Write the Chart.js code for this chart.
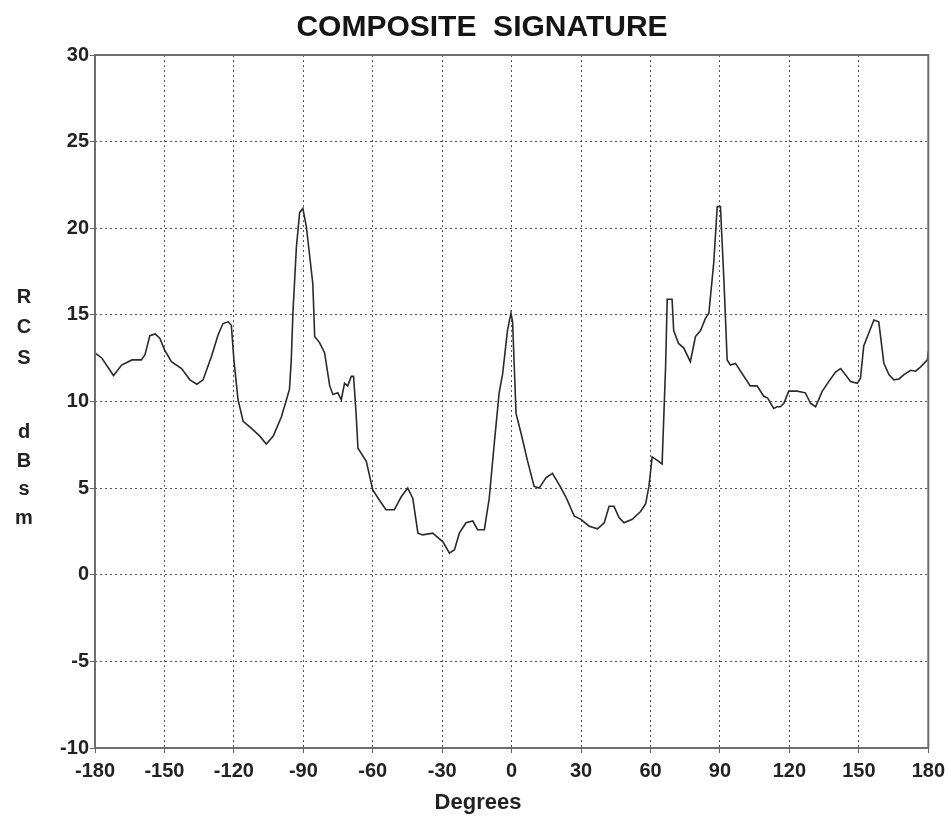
<!DOCTYPE html>
<html>
<head>
<meta charset="utf-8">
<script src="https://cdn.jsdelivr.net/npm/chart.js@4/dist/chart.umd.min.js"></script>
<style>
  html, body { margin: 0; padding: 0; background: #ffffff; }
  #wrap { width: 951px; height: 818px; position: relative; }
</style>
</head>
<body>
<div id="wrap"><canvas id="c"></canvas></div>
<script>
const titleText = "COMPOSITE  SIGNATURE";
const xAxisTitle = "Degrees";
const yAxisLetters = ["R", "C", "S", "", "d", "B", "s", "m"];
const xTicks = [-180, -150, -120, -90, -60, -30, 0, 30, 60, 90, 120, 150, 180];
const yTicks = [-10, -5, 0, 5, 10, 15, 20, 25, 30];

const degrees = [
  -180, -177, -172, -168.5, -164, -160, -158.4, -156.3, -154, -152, -150, -147, -142.6, -139, -136, -133.3,
  -129.7, -126.8, -124.7, -122.5, -121.1, -120, -118.2, -116, -112.4, -108.8, -106, -103, -99.5, -97.3, -96,
  -95.2, -94.5, -93, -91.6, -90.2, -88.7, -85.9, -85.1, -83, -80.8, -78.6, -77.2, -75.1, -73.6, -72.2,
  -70.8, -69.3, -68.3, -67.2, -66.4, -62.8, -60, -57.1, -54.3, -50.7, -47.7, -44.9, -42.7, -40.5, -38.4,
  -34.1, -29.7, -26.9, -24.7, -22.6, -19.7, -16.8, -14.7, -11.8, -9.7, -7.5, -5.4, -3.9, -1.8, -0.3, 0.4,
  1.9, 4, 6.8, 9.7, 11.9, 14.8, 17.6, 20.5, 23.4, 27, 29.9, 33.5, 37.1, 40, 42.1, 44.2, 46.4, 48.5, 52.1,
  55.7, 57.9, 59.3, 60.7, 62.9, 65, 66.5, 67.2, 69.3, 70, 72.1, 74.3, 77.2, 79.4, 81.6, 83.7, 85.2, 87.3,
  88.8, 90.2, 91.7, 93.1, 94.5, 96.7, 99.6, 103.1, 106, 108.9, 110.6, 113.2, 114.7, 116.1, 117.6, 119.7,
  123.3, 126.9, 129.1, 131.3, 134.2, 137, 139.9, 142.1, 144.2, 146.4, 149.3, 150.7, 152.1, 154.3, 156.5,
  158.6, 160.8, 163, 165.1, 167.3, 169.5, 172.4, 174.5, 176.7, 179.6, 180
];
const rcs = [
  12.8, 12.5, 11.5, 12.1, 12.4, 12.4, 12.7, 13.8, 13.9, 13.65, 13.0, 12.3, 11.9, 11.25, 11.0, 11.25,
  12.6, 13.85, 14.5, 14.6, 14.4, 12.4, 10.1, 8.85, 8.45, 8.0, 7.55, 8.0, 9.1, 10.1, 10.7,
  12.4, 15.1, 18.9, 20.9, 21.15, 20.1, 16.8, 13.75, 13.4, 12.8, 10.9, 10.4, 10.5, 10.1, 11.05,
  10.9, 11.45, 11.45, 9.3, 7.3, 6.55, 4.9, 4.3, 3.75, 3.75, 4.5, 5.0, 4.4, 2.4, 2.3,
  2.4, 1.9, 1.25, 1.45, 2.4, 3.0, 3.1, 2.6, 2.6, 4.4, 7.6, 10.5, 11.6, 14.1, 15.1, 14.6,
  9.3, 8.2, 6.6, 5.1, 5.0, 5.6, 5.85, 5.2, 4.5, 3.4, 3.2, 2.8, 2.65, 3.0, 3.95, 3.95, 3.3, 3.0, 3.2,
  3.65, 4.1, 5.1, 6.8, 6.6, 6.4, 12.0, 15.9, 15.9, 14.1, 13.35, 13.1, 12.3, 13.75, 14.1, 14.8, 15.1, 18.0,
  21.25, 21.25, 17.0, 12.4, 12.1, 12.2, 11.6, 10.9, 10.9, 10.3, 10.2, 9.6, 9.7, 9.7, 9.9, 10.6,
  10.6, 10.5, 9.9, 9.7, 10.6, 11.15, 11.7, 11.9, 11.55, 11.15, 11.05, 11.35, 13.2, 13.95, 14.7,
  14.6, 12.2, 11.55, 11.25, 11.3, 11.55, 11.8, 11.75, 12.0, 12.4, 12.9
];

const FONT = "'Liberation Sans', Arial, Helvetica, sans-serif";

const textPlugin = {
  id: 'texts',
  afterDraw(chart) {
    const ctx = chart.ctx;
    const a = chart.chartArea;
    ctx.save();
    // plot frame
    ctx.strokeStyle = '#6e6e6e';
    ctx.lineWidth = 2;
    ctx.setLineDash([]);
    ctx.strokeRect(a.left, a.top, a.right - a.left, a.bottom - a.top);
    // title
    ctx.fillStyle = '#151515';
    ctx.textAlign = 'center';
    ctx.textBaseline = 'middle';
    ctx.font = "bold 30px " + FONT;
    ctx.fillText(titleText, 482, 28);
    // x-axis title
    ctx.fillStyle = '#222';
    ctx.font = "bold 22px " + FONT;
    ctx.fillText(xAxisTitle, 478, 803);
    // stacked y-axis title letters
    ctx.font = "bold 20px " + FONT;
    const ys = [297, 327, 358, 0, 432, 461, 489, 518];
    yAxisLetters.forEach((ch, i) => {
      if (ch) ctx.fillText(ch, 24, ys[i]);
    });
    ctx.restore();
  }
};

const gridOpts = {
  color: '#555',
  lineWidth: 1,
  tickLength: 5,
  tickBorderDash: [],
  tickColor: '#666'
};

new Chart(document.getElementById('c'), {
  type: 'scatter',
  data: {
    datasets: [{
      data: degrees.map((d, i) => ({ x: d, y: rcs[i] })),
      showLine: true,
      borderColor: '#2a2a2a',
      borderWidth: 1.6,
      pointRadius: 0,
      tension: 0,
      fill: false
    }]
  },
  options: {
    responsive: true,
    maintainAspectRatio: false,
    animation: false,
    layout: { padding: { left: 0, right: 18, top: 55, bottom: 0 } },
    plugins: {
      legend: { display: false },
      tooltip: { enabled: false },
      title: { display: false }
    },
    scales: {
      x: {
        type: 'linear',
        min: -180, max: 180,
        afterBuildTicks(scale) { scale.ticks = xTicks.map(v => ({ value: v })); },
        afterFit(scale) { scale.height = 70; },
        grid: gridOpts,
        border: { display: false, dash: [2, 3] },
        ticks: {
          color: '#222',
          padding: 6,
          maxRotation: 0,
          font: { family: FONT, size: 20, weight: 'bold' },
          callback: v => String(v)
        }
      },
      y: {
        type: 'linear',
        min: -10, max: 30,
        afterBuildTicks(scale) { scale.ticks = yTicks.map(v => ({ value: v })); },
        afterFit(scale) { scale.width = 95; },
        grid: gridOpts,
        border: { display: false, dash: [2, 3] },
        ticks: {
          color: '#222',
          padding: 1,
          font: { family: FONT, size: 20, weight: 'bold' },
          callback: v => String(v)
        }
      }
    }
  },
  plugins: [textPlugin]
});
</script>
</body>
</html>
